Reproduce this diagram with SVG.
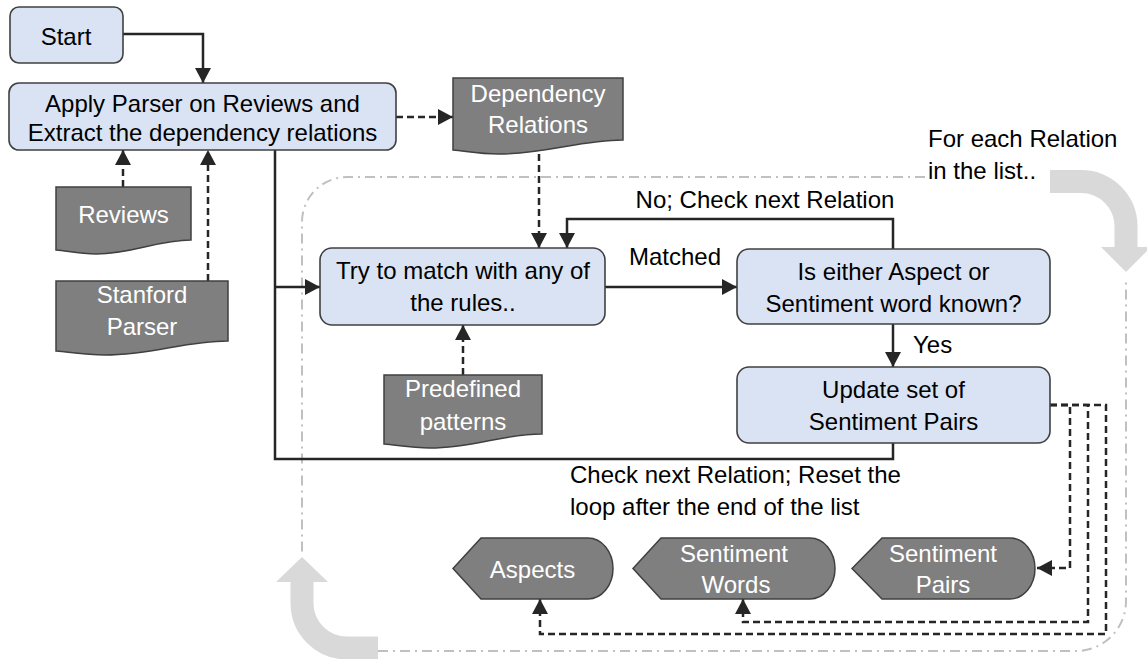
<svg xmlns="http://www.w3.org/2000/svg" width="1147" height="659" viewBox="0 0 1147 659">
<style>
.box{fill:#dae3f3;stroke:#404040;stroke-width:1.6}
.doc{fill:#7f7f7f;stroke:#404040;stroke-width:1.5}
.t{font-family:"Liberation Sans",Arial,sans-serif;font-size:24px;fill:#000;text-anchor:middle}
.w{fill:#fff}
.l{text-anchor:start}
.c{fill:none;stroke:#262626;stroke-width:2.5}
.d{stroke-dasharray:7 4}
.loop{fill:none;stroke:#c0c0c0;stroke-width:2;stroke-dasharray:10 5 2 5}
.big{fill:none;stroke:#d9d9d9;stroke-width:23}
</style>
<defs>
<marker id="ah" viewBox="0 0 15 16" refX="15" refY="8" markerWidth="15" markerHeight="16" markerUnits="userSpaceOnUse" orient="auto">
<path d="M0,0 L15,8 L0,16 Z" fill="#262626"/>
</marker>
</defs>

<g id="loop">
<path class="loop" d="M925,177 H347 A45,45 0 0 0 302,222 V553"/>
<path class="loop" d="M378,651 H1076 A50,50 0 0 0 1126,601 V280"/>
<path class="big" d="M1050,181.5 H1081 A45,45 0 0 1 1126,226.5 V248"/>
<polygon points="1101,247 1151,247 1126,272" fill="#d9d9d9"/>
<path class="big" d="M378,648 H347 A45,45 0 0 1 302,603 V581"/>
<polygon points="276,582 328,582 302,557" fill="#d9d9d9"/>
</g>

<g id="connectors">
<path class="c" d="M123,34 H203 V83" marker-end="url(#ah)"/>
<path class="c" d="M275,150 V459 H893 V443"/>
<path class="c" d="M275,287 H320" marker-end="url(#ah)"/>
<path class="c" d="M605,287 H737" marker-end="url(#ah)"/>
<path class="c" d="M893,249 V219 H567 V248" marker-end="url(#ah)"/>
<path class="c" d="M893,324 V367" marker-end="url(#ah)"/>
<path class="c d" d="M396,117 H453" marker-end="url(#ah)"/>
<path class="c d" d="M539,154 V248" marker-end="url(#ah)"/>
<path class="c d" d="M123,187 V150" marker-end="url(#ah)"/>
<path class="c d" d="M208,281 V150" marker-end="url(#ah)"/>
<path class="c d" d="M463,375 V325" marker-end="url(#ah)"/>
<path class="c d" d="M1050,405 H1070 V568 H1037" marker-end="url(#ah)"/>
<path class="c d" d="M1050,405 H1088 V622 H743 V599" marker-end="url(#ah)"/>
<path class="c d" d="M1050,405 H1106 V634 H540 V599" marker-end="url(#ah)"/>
</g>

<g id="start">
<rect class="box" x="10" y="7" width="113" height="56" rx="9"/>
<text class="t" x="66" y="45">Start</text>
</g>

<g id="apply">
<rect class="box" x="9" y="83" width="387" height="67" rx="10"/>
<text class="t" x="202.5" y="112">Apply Parser on Reviews and</text>
<text class="t" x="202.5" y="141">Extract the dependency relations</text>
</g>

<g id="dependency">
<path class="doc" d="M453,78 H623 V140 C580,140 546,154 499,154 C478,154 466,151 453,150 Z"/>
<text class="t w" x="538" y="102">Dependency</text>
<text class="t w" x="538" y="133">Relations</text>
</g>

<g id="reviews">
<path class="doc" d="M56,187 H191 V240 C157,240 133,254 96,254 C79,254 68,251 56,250 Z"/>
<text class="t w" x="123.5" y="223">Reviews</text>
</g>

<g id="stanford">
<path class="doc" d="M56,281 H228 V341 C184,341 153,355 105,355 C84,355 70,352 56,351 Z"/>
<text class="t w" x="142" y="303">Stanford</text>
<text class="t w" x="142" y="335">Parser</text>
</g>

<g id="trymatch">
<rect class="box" x="320" y="248" width="285" height="77" rx="12"/>
<text class="t" x="463" y="279">Try to match with any of</text>
<text class="t" x="463" y="311">the rules..</text>
</g>

<g id="predefined">
<path class="doc" d="M384,375 H542 V434 C502,434 474,448 430,448 C411,448 397,445 384,444 Z"/>
<text class="t w" x="463" y="397">Predefined</text>
<text class="t w" x="463" y="430">patterns</text>
</g>

<g id="iseither">
<rect class="box" x="737" y="249" width="313" height="75" rx="12"/>
<text class="t" x="893.5" y="280">Is either Aspect or</text>
<text class="t" x="893.5" y="312">Sentiment word known?</text>
</g>

<g id="update">
<rect class="box" x="737" y="367" width="313" height="76" rx="12"/>
<text class="t" x="893.5" y="398">Update set of</text>
<text class="t" x="893.5" y="430">Sentiment Pairs</text>
</g>

<g id="aspects">
<path class="doc" d="M453,568.5 L481,538 H588 A25,30.5 0 0 1 588,599 H481 Z"/>
<text class="t w" x="532.5" y="578">Aspects</text>
</g>

<g id="sentwords">
<path class="doc" d="M633,568.5 L661,538 H810 A25,30.5 0 0 1 810,599 H661 Z"/>
<text class="t w" x="734" y="562">Sentiment</text>
<text class="t w" x="736" y="593">Words</text>
</g>

<g id="sentpairs">
<path class="doc" d="M852,568.5 L882,538 H1010 A25,30.5 0 0 1 1010,599 H882 Z"/>
<text class="t w" x="943" y="562">Sentiment</text>
<text class="t w" x="943" y="593">Pairs</text>
</g>

<g id="labels">
<text class="t" x="675" y="265">Matched</text>
<text class="t" x="765" y="208">No; Check next Relation</text>
<text class="t l" x="913" y="353">Yes</text>
<text class="t l" x="570" y="483">Check next Relation; Reset the</text>
<text class="t l" x="570" y="515">loop after the end of the list</text>
<text class="t l" x="928" y="147">For each Relation</text>
<text class="t l" x="928" y="179">in the list..</text>
</g>
</svg>
